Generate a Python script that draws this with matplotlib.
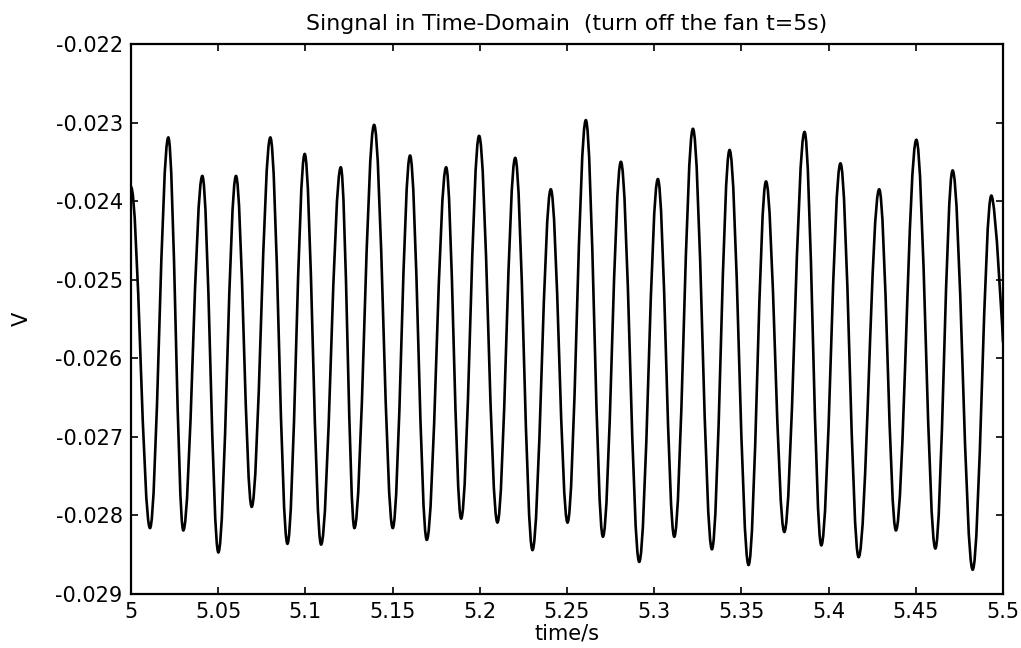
import matplotlib
matplotlib.use("Agg")
import matplotlib.pyplot as plt
from matplotlib.path import Path
from matplotlib.patches import PathPatch

# Voltage extremes of the recorded signal (seconds, volts)
start_point = (5.0, -0.02382)
end_point = (5.5, -0.0258)

trough_t = [5.0109, 5.0300, 5.0501, 5.0692, 5.0897, 5.1090, 5.1281, 5.1501,
            5.1696, 5.1893, 5.2101, 5.2302, 5.2503, 5.2706, 5.2914, 5.3115,
            5.3331, 5.3541, 5.3746, 5.3958, 5.4172, 5.4386, 5.4612, 5.4826]
trough_v = [-0.02816, -0.02819, -0.02847, -0.02789, -0.02836, -0.02837,
            -0.02816, -0.02816, -0.02831, -0.02804, -0.02809, -0.02844,
            -0.02809, -0.02827, -0.02859, -0.02827, -0.02843, -0.02863,
            -0.02821, -0.02838, -0.02853, -0.02819, -0.02842, -0.02869]

peak_t = [5.0214, 5.0409, 5.0602, 5.0799, 5.0996, 5.1203, 5.1394, 5.1600,
          5.1807, 5.1996, 5.2203, 5.2407, 5.2608, 5.2809, 5.3021, 5.3222,
          5.3432, 5.3641, 5.3862, 5.4068, 5.4290, 5.4503, 5.4711, 5.4933]
peak_v = [-0.02319, -0.02368, -0.02368, -0.02319, -0.02340, -0.02357,
          -0.02303, -0.02342, -0.02357, -0.02317, -0.02345, -0.02385,
          -0.02297, -0.02350, -0.02372, -0.02308, -0.02335, -0.02375,
          -0.02312, -0.02352, -0.02385, -0.02322, -0.02361, -0.02393]

x_ticks = [5.0, 5.05, 5.1, 5.15, 5.2, 5.25, 5.3, 5.35, 5.4, 5.45, 5.5]
x_tick_labels = ["5", "5.05", "5.1", "5.15", "5.2", "5.25", "5.3", "5.35",
                 "5.4", "5.45", "5.5"]
y_ticks = [-0.029, -0.028, -0.027, -0.026, -0.025, -0.024, -0.023, -0.022]
y_tick_labels = ["-0.029", "-0.028", "-0.027", "-0.026", "-0.025", "-0.024",
                 "-0.023", "-0.022"]

plt.rcParams["font.family"] = ["DejaVu Sans"]

fig = plt.figure(figsize=(10.21, 6.48), dpi=100)
ax = fig.add_axes([0.1283, 0.0833, 0.8541, 0.8488])

# Ordered sequence of extremes: start, trough, peak, trough, peak, ..., end
points = [start_point]
for tt, tv, pt, pv in zip(trough_t, trough_v, peak_t, peak_v):
    points.append((tt, tv))
    points.append((pt, pv))
points.append(end_point)

# Smooth waveform through the extremes, drawn as cubic Bezier segments
k = 0.36
verts = [points[0]]
codes = [Path.MOVETO]
for i in range(len(points) - 1):
    (t0, v0), (t1, v1) = points[i], points[i + 1]
    dt = t1 - t0
    c1 = (t0 + k * dt, v0)
    c2 = (t1 - k * dt, v1) if i < len(points) - 2 else (t1, v1)
    verts += [c1, c2, (t1, v1)]
    codes += [Path.CURVE4, Path.CURVE4, Path.CURVE4]

wave = PathPatch(Path(verts, codes), facecolor="none", edgecolor="black",
                 linewidth=1.9, joinstyle="miter")
ax.add_patch(wave)

ax.set_xlim(5.0, 5.5)
ax.set_ylim(-0.029, -0.022)
ax.set_xticks(x_ticks)
ax.set_xticklabels(x_tick_labels)
ax.set_yticks(y_ticks)
ax.set_yticklabels(y_tick_labels)

ax.tick_params(direction="in", top=True, right=True, length=5, width=1.2,
               labelsize=15, colors="black", pad=6)
for s in ax.spines.values():
    s.set_linewidth(1.6)
    s.set_color("black")

ax.set_title("Singnal in Time-Domain  (turn off the fan t=5s)", fontsize=15.8,
             pad=10)
ax.set_xlabel("time/s", fontsize=15, labelpad=1)
ax.set_ylabel("V", fontsize=15, labelpad=17)

fig.savefig("out.png", dpi=100, facecolor="white")
